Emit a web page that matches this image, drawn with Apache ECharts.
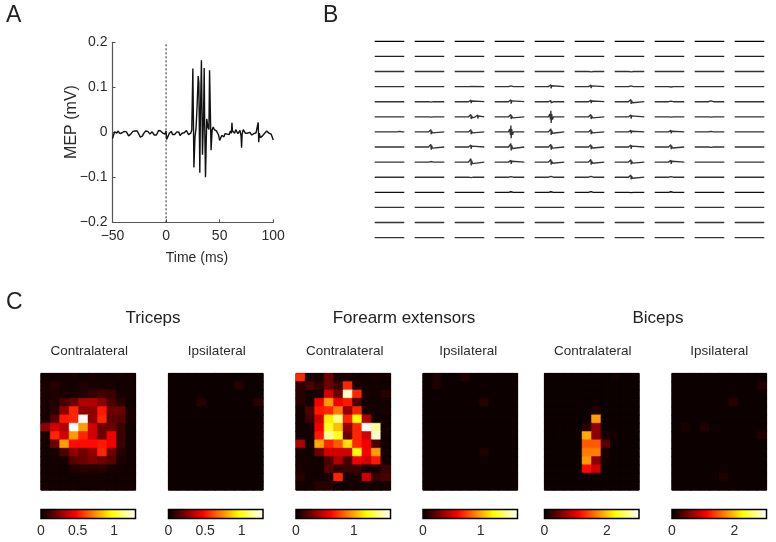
<!DOCTYPE html>
<html><head><meta charset="utf-8">
<style>html,body{margin:0;padding:0;background:#fff}#c{width:776px;height:542px}</style>
<script src="https://cdn.jsdelivr.net/npm/echarts@6/dist/echarts.min.js"></script>
</head><body><div id="c"></div>
<script>
// ---------- Panel A: single MEP trace ----------
const mepTime = [-50,-49,-48,-47,-46,-45,-44,-43,-42,-41,-40,-39,-38,-37,-36,-35,-34,-33,-32,-31,-30,-29,-28,-27,-26,-25,-24,-23,-22,-21,-20,-19,-18,-17,-16,-15,-14,-13,-12,-11,-10,-9,-8,-7,-6,-5,-4,-3,-2,-1,0,0.5,1,2,3,4,5,6,7,8,9,10,11,12,13,14,15,16,17,18,19,20,21,22,23,24,25,26,27,28,29,30,30.6,31.5,32,33,34,35,35.6,36,36.8,37.5,38,39,40,40.6,42,43,44,45,46,47,48,49,50,51,52,53,54,55,56,57,58,59,60,61,61.5,62,63,64,65,66,67,68,69,70,70.5,71,72,73,74,75,76,77,78,79,80,81,82,83,84,85,86,86.5,87,88,89,90,91,92,93,94,95,96,97,98,99,100];
const mepValue = [-0.014,-0.006,0.001,0.002,-0.002,0.003,0.002,-0.003,-0.005,-0.001,0.003,0.002,0.004,0.001,-0.002,-0.008,-0.01,-0.004,-0.001,0.002,0.004,0.003,0.001,0.003,-0.001,-0.006,-0.011,-0.012,-0.008,-0.003,0.001,0.003,0,0.002,-0.002,-0.004,-0.001,0.001,-0.002,-0.006,-0.004,-0.006,-0.001,0.004,0.005,0.003,0.001,-0.002,0.001,-0.004,0.003,-0.016,-0.013,-0.008,-0.002,-0.004,0.002,-0.005,-0.009,-0.005,-0.001,0.001,0.003,0,-0.007,-0.005,-0.002,-0.006,-0.001,0.001,0.004,0.002,-0.005,-0.007,-0.002,0.005,0.142,-0.078,-0.01,0.01,0.06,0.125,0.11,-0.09,0.03,0.16,-0.05,0.04,0.143,0.03,-0.1,-0.02,0.03,0.012,0.006,0.138,-0.04,0.005,0.012,0.006,0.008,0.003,0.001,-0.006,-0.018,-0.016,-0.007,-0.006,-0.01,-0.003,-0.001,-0.004,0,-0.005,0.003,-0.002,0.021,0.003,0.004,-0.002,0.006,0.002,-0.003,-0.004,0.004,-0.008,-0.034,-0.004,0.006,0.003,-0.002,-0.004,-0.002,0.002,0,-0.004,-0.006,-0.009,-0.003,-0.005,-0.001,0.002,0.022,-0.022,-0.002,-0.012,-0.016,-0.008,-0.005,-0.002,0.002,0.003,0.001,-0.002,-0.001,-0.004,-0.01,-0.017];
const stimTime = [0, 0];
const stimRange = [-0.2, 0.2];

// ---------- Panel B: 14 x 10 grid of traces, burst amplitude in mV ----------
const burstAmp = [
 [0,0,0,0,0,0,0,0,0,0],
 [0,0,0,0,0,0,0,0,0,0],
 [0,0,0,0,0,0.008,0.01,0,0,0],
 [0,0,0.005,0.02,0.05,0.04,0.02,0.01,0,0],
 [0,0.01,0.04,0.05,0.03,0.04,0.06,0.015,0.02,0],
 [0,0.01,0.06,0.06,0.16,0.06,0.05,0.01,0.01,0],
 [0,0.06,0.06,0.17,0.08,0.06,0.04,0.04,0.015,0],
 [0.005,0.07,0.05,0.09,0.07,0.06,0.05,0.06,0.01,0],
 [0,0.015,0.09,0.05,0.07,0.07,0.06,0.05,0,0],
 [0,0,0.01,0.015,0.02,0.02,0.06,0.015,0,0],
 [0,0,0,0.015,0.015,0.02,0.01,0.015,0,0],
 [0,0,0,0,0,0,0,0,0,0],
 [0,0,0,0,0,0,0,0,0,0],
 [0,0,0,0,0,0,0,0,0,0]
];
const burstTemplateTime = [20,26,30,32,33.5,36,40,45];
const burstTemplateGain = [0,0.45,-0.45,1,-1,0.45,-0.45,0];
// late extra bursts: [row, col, time ms, amp mV]
const extraBursts = [[5,2,66,0.045],[6,0,76,0.015]];
const rowColors = ['#000','#222','#333','#333','#333','#333','#333','#333','#333','#333','#111','#333','#333','#333'];

// ---------- Panel C: 14 x 10 maps, fraction of each colour scale ----------
const tricepsContra = [
 [.02,.02,.02,.03,.02,.03,.02,.02,.03,.02],
 [.03,.05,.03,.02,.04,.03,.03,.03,.02,.02],
 [.03,.04,.03,.03,.04,.07,.09,.08,.03,.02],
 [.03,.04,.1,.15,.25,.25,.2,.1,.05,.02],
 [.03,.05,.2,.42,.2,.2,.4,.15,.15,.03],
 [.03,.12,.4,.42,1,.2,.42,.12,.12,.03],
 [.2,.3,.25,1,.6,.3,.15,.15,.08,.02],
 [.03,.42,.3,.6,.42,.3,.15,.35,.08,.02],
 [.02,.15,.6,.38,.38,.38,.4,.35,.08,.02],
 [.02,.03,.1,.2,.15,.2,.42,.15,.05,.02],
 [.02,.02,.03,.12,.15,.18,.15,.12,.03,.02],
 [.02,.02,.02,.04,.05,.04,.05,.03,.02,.02],
 [.02,.02,.02,.02,.02,.03,.02,.02,.02,.02],
 [.02,.02,.02,.02,.02,.02,.02,.02,.02,.02]
];
const forearmContra = [
 [.42,.03,.03,.15,.03,.03,.02,.02,.03,.02],
 [.06,.1,.06,.15,.08,.42,.03,.02,.02,.02],
 [.05,.02,.03,.3,.15,.95,.42,.03,.02,.05],
 [.05,.02,.35,.6,.35,.4,.1,.02,.02,.02],
 [.02,.1,.4,.42,.55,.2,.42,.03,.02,.03],
 [.02,.08,.3,.72,.88,.42,.75,.25,.02,.02],
 [.02,.02,.35,.78,.65,.2,.42,1,.9,.02],
 [.02,.02,.4,.9,.78,.15,.42,.3,.95,.02],
 [.25,.02,.62,.42,.5,.7,.42,.35,.1,.02],
 [.02,.02,.15,.3,.3,.3,.75,.35,.6,.02],
 [.02,.02,.02,.1,.25,.1,.35,.3,.4,.02],
 [.03,.02,.02,.12,.06,.08,.08,.02,.03,.08],
 [.05,.02,.02,.03,.42,.03,.03,.3,.08,.1],
 [.02,.02,.05,.05,.02,.02,.02,.02,.02,.02]
];
const bicepsContra = [
 [.01,.01,.01,.01,.01,.01,.01,.02,.01,.01],
 [.01,.01,.01,.01,.01,.01,.01,.01,.01,.01],
 [.01,.01,.01,.01,.01,.01,.01,.01,.01,.01],
 [.01,.01,.01,.01,.01,.01,.01,.01,.01,.01],
 [.01,.01,.01,.01,.01,.04,.01,.01,.01,.01],
 [.01,.01,.01,.01,.01,.6,.01,.01,.01,.01],
 [.01,.01,.01,.01,.05,.2,.01,.01,.01,.01],
 [.01,.01,.01,.01,.62,.2,.03,.02,.01,.01],
 [.01,.01,.01,.01,.5,.5,.12,.01,.01,.01],
 [.01,.01,.01,.01,.55,.55,.03,.01,.01,.01],
 [.01,.01,.01,.01,.6,.2,.02,.01,.01,.01],
 [.01,.01,.01,.01,.38,.3,.01,.01,.01,.01],
 [.01,.01,.01,.01,.01,.01,.01,.01,.01,.01],
 [.01,.01,.01,.01,.01,.01,.01,.01,.01,.01]
];
// ipsilateral maps are flat apart from a few faint cells: [row, col, fraction]
const ipsiBase = 0.012;
const tricepsIpsiSpots = [[1,7,.05],[3,3,.05],[3,9,.05]];
const forearmIpsiSpots = [[0,1,.035],[1,1,.035],[0,4,.04],[3,6,.05],[9,6,.04]];
const bicepsIpsiSpots = [[1,9,.04],[3,6,.05],[6,1,.03],[6,3,.04],[7,9,.04],[12,5,.04]];

const mapTitles = ['Contralateral','Ipsilateral','Contralateral','Ipsilateral','Contralateral','Ipsilateral'];
const muscleTitles = ['Triceps','Forearm extensors','Biceps'];
const scaleMax = [1.29, 1.29, 1.63, 1.64, 3.03, 3.03];
const scaleTicks = [[0,0.5,1],[0,0.5,1],[0,1],[0,1],[0,2],[0,2]];

// layout
const mapLeft = [41, 168.5, 296, 423, 544.5, 672];
const mapWidth = 94.5;
const mapTop = 373.5, mapHeight = 116.5;
const barTop = 509.5, barHeight = 9;
const FONT = '"Liberation Sans", Arial, sans-serif';
const TXT = '#2b2b2b';

function ipsi(spots){
  const m = Array.from({length:14}, () => Array(10).fill(ipsiBase));
  spots.forEach(s => { m[s[0]][s[1]] = s[2]; });
  return m;
}
const maps = [tricepsContra, ipsi(tricepsIpsiSpots), forearmContra, ipsi(forearmIpsiSpots), bicepsContra, ipsi(bicepsIpsiSpots)];

// hot colormap anchors
const hotStops = [[0,'#050000'],[0.365,'#ff0000'],[0.746,'#ffff00'],[1,'#ffffff']];
function hotColor(p){
  const hex=h=>[1,3,5].map(i=>parseInt(h.substr(i,2),16));
  let j=0; while(j<hotStops.length-2&&p>hotStops[j+1][0]) j++;
  const a=hotStops[j], b=hotStops[j+1], f=(p-a[0])/(b[0]-a[0]);
  const ca=hex(a[1]), cb=hex(b[1]);
  return 'rgb('+ca.map((x,q)=>Math.round(x+(cb[q]-x)*f)).join(',')+')';
}
const hotRamp=[]; for(let i=0;i<=40;i++) hotRamp.push(hotColor(i/40));

const grid=[], xAxis=[], yAxis=[], series=[], visualMap=[], graphic=[];

// Panel A
grid.push({left:112.5, top:42.3, width:160.7, height:180});
xAxis.push({type:'value', gridIndex:0, min:-50, max:100, interval:50,
  axisLine:{onZero:false,lineStyle:{color:'#555',width:1.2}}, axisTick:{inside:true,length:3,lineStyle:{color:'#555'}},
  splitLine:{show:false}, axisLabel:{color:TXT,fontFamily:FONT,fontSize:14,margin:7,
    formatter:v=>String(v).replace('-','\u2212')}});
yAxis.push({type:'value', gridIndex:0, min:-0.2, max:0.2, interval:0.1,
  axisLine:{show:true,onZero:false,lineStyle:{color:'#555',width:1.2}}, axisTick:{inside:true,length:3,lineStyle:{color:'#555'}},
  splitLine:{show:false}, axisLabel:{color:TXT,fontFamily:FONT,fontSize:14,margin:5,
    formatter:v=>String(+v.toFixed(1)).replace('-','\u2212')}});
series.push({type:'line', xAxisIndex:0, yAxisIndex:0, symbol:'none', silent:true,
  data:mepTime.map((t,i)=>[t,mepValue[i]]), lineStyle:{color:'#111',width:1.4}});
series.push({type:'line', xAxisIndex:0, yAxisIndex:0, symbol:'none', silent:true,
  data:stimTime.map((t,i)=>[t,stimRange[i]]), lineStyle:{color:'#222',width:1,type:[2,2]}});

// Panel B
const cellSpacingMs = 202.7, rowStepMv = 0.4;
grid.push({left:374.7, top:26.2, width:389.6, height:226.5});
xAxis.push({type:'value', gridIndex:1, min:0, max:9*cellSpacingMs+150, show:false});
yAxis.push({type:'value', gridIndex:1, min:-rowStepMv, max:14*rowStepMv, show:false});
burstAmp.forEach((row,r)=>{
  const base=(13-r)*rowStepMv, pts=[];
  row.forEach((amp,c)=>{
    const x0=c*cellSpacingMs+50;
    let events=[];
    if(amp>0) burstTemplateTime.forEach((t,i)=>events.push([t,amp*burstTemplateGain[i]]));
    extraBursts.filter(e=>e[0]===r&&e[1]===c).forEach(e=>{
      burstTemplateTime.forEach((t,i)=>events.push([t-32+e[2],e[3]*burstTemplateGain[i]]));
    });
    events.sort((a,b)=>a[0]-b[0]);
    pts.push([x0-50,base]);
    events.forEach(e=>pts.push([x0+e[0],base+e[1]]));
    pts.push([x0+100,base]);
    pts.push([x0+101,'-']);
  });
  series.push({type:'line', xAxisIndex:1, yAxisIndex:1, symbol:'none', silent:true, connectNulls:false,
    data:pts, lineStyle:{color:rowColors[r],width:1.35}});
});

// Panel C
const xCats=[...Array(10).keys()].map(String), yCats=[...Array(14).keys()].map(String);
maps.forEach((m,k)=>{
  const gi=grid.length;
  grid.push({left:mapLeft[k], top:mapTop, width:mapWidth, height:mapHeight, show:true,
    backgroundColor:'#060000', borderColor:'#070000', borderWidth:1});
  xAxis.push({type:'category', gridIndex:gi, data:xCats, show:false});
  yAxis.push({type:'category', gridIndex:gi, data:yCats, inverse:true, show:false});
  const data=[];
  m.forEach((row,r)=>row.forEach((v,c)=>data.push({value:[c,r,v*scaleMax[k]],
    itemStyle:{borderColor:hotColor(v),borderWidth:0.5}})));
  const si=series.length;
  series.push({type:'heatmap', xAxisIndex:gi, yAxisIndex:gi, data, silent:true, progressive:0});
  visualMap.push({show:false, seriesIndex:si, dimension:2, min:0, max:scaleMax[k],
    inRange:{color:hotRamp}});

  const gb=grid.length;
  grid.push({left:mapLeft[k], top:barTop, width:mapWidth, height:barHeight, show:true,
    borderColor:'#000', borderWidth:1.5, backgroundColor:'transparent', z:5});
  xAxis.push({type:'value', gridIndex:gb, min:0, max:scaleMax[k], interval:scaleTicks[k][1],
    axisLine:{show:false}, axisTick:{inside:true,length:2,lineStyle:{color:'#222'}}, splitLine:{show:false},
    axisLabel:{color:TXT,fontFamily:FONT,fontSize:14,margin:6,showMaxLabel:false,
      formatter:v=>scaleTicks[k].some(t=>Math.abs(t-v)<1e-6)?String(v):''}});
  yAxis.push({type:'category', gridIndex:gb, data:['scale'], show:false});
  series.push({type:'bar', xAxisIndex:gb, yAxisIndex:gb, data:[scaleMax[k]], barWidth:'100%', silent:true,
    itemStyle:{color:new echarts.graphic.LinearGradient(0,0,1,0,hotStops.map(s=>({offset:s[0],color:s[1]})))}});

  graphic.push({type:'text', x:mapLeft[k]+mapWidth/2+[1,1,1.5,-2,1,0][k], y:351, style:{text:mapTitles[k],
    font:'13.5px '+FONT, fill:TXT, textAlign:'center', textVerticalAlign:'middle'}});
});
[[153,muscleTitles[0]],[404,muscleTitles[1]],[658,muscleTitles[2]]].forEach(t=>{
  graphic.push({type:'text', x:t[0], y:318, style:{text:t[1], font:'17px '+FONT, fill:'#222', textAlign:'center', textVerticalAlign:'middle'}});
});
[[6,16,'A'],[323,16,'B'],[6,303,'C']].forEach(t=>{
  graphic.push({type:'text', x:t[0], y:t[1], style:{text:t[2], font:'23px '+FONT, fill:'#222', textAlign:'left', textVerticalAlign:'middle'}});
});
graphic.push({type:'text', x:197, y:258, style:{text:'Time (ms)', font:'14px '+FONT, fill:TXT, textAlign:'center', textVerticalAlign:'middle'}});
graphic.push({type:'text', x:72, y:122, rotation:Math.PI/2, style:{text:'MEP (mV)', font:'16px '+FONT, fill:TXT, textAlign:'center', textVerticalAlign:'middle'}});

const chart=echarts.init(document.getElementById('c'),null,{renderer:'canvas'});
chart.setOption({animation:false, backgroundColor:'#fff', grid, xAxis, yAxis, series, visualMap, graphic});
</script></body></html>
